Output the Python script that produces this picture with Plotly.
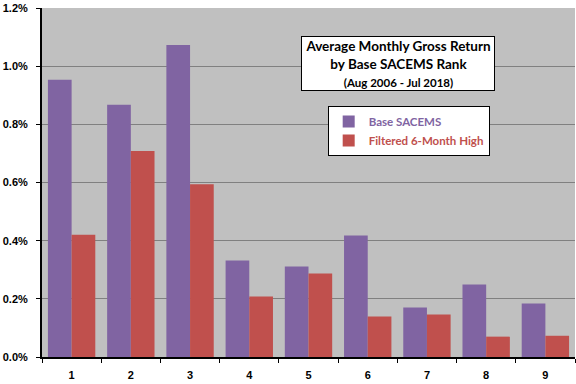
import plotly.graph_objects as go

ranks = ["1", "2", "3", "4", "5", "6", "7", "8", "9"]
base_sacems = [0.953, 0.867, 1.073, 0.332, 0.311, 0.418, 0.170, 0.249, 0.184]
filtered_6m_high = [0.420, 0.708, 0.594, 0.208, 0.287, 0.139, 0.146, 0.070, 0.073]
y_ticks = [0.0, 0.2, 0.4, 0.6, 0.8, 1.0, 1.2]
y_tick_labels = ["0.0%", "0.2%", "0.4%", "0.6%", "0.8%", "1.0%", "1.2%"]

purple = "#8064A2"
red = "#C0504D"

fig = go.Figure()
fig.add_trace(go.Bar(
    x=ranks, y=base_sacems,
    name=f"<span style='color:{purple}'><b>Base SACEMS</b></span>",
    marker=dict(color=purple, line=dict(width=0)),
))
fig.add_trace(go.Bar(
    x=ranks, y=filtered_6m_high,
    name=f"<span style='color:{red}'><b>Filtered 6-Month High</b></span>",
    marker=dict(color=red, line=dict(width=0)),
))

tick_font = dict(family="'Liberation Sans', Arial, sans-serif", size=11, color="black", weight="bold")

fig.update_layout(
    width=576, height=384,
    margin=dict(l=42, r=1, t=8, b=27, autoexpand=False),
    paper_bgcolor="white",
    plot_bgcolor="#C0C0C0",
    barmode="group",
    bargap=0.2,
    bargroupgap=0,
    font=dict(family="Lato, 'Open Sans', sans-serif", size=12, color="black"),
    showlegend=True,
    legend=dict(
        x=0.536, y=0.719, xanchor="left", yanchor="top",
        bgcolor="white", bordercolor="black", borderwidth=1,
        font=dict(size=11.5, family="Lato, 'Open Sans', sans-serif"),
        itemwidth=30,
        tracegroupgap=2,
    ),
    xaxis=dict(
        type="category",
        automargin=False,
        showline=True, linecolor="black", linewidth=2,
        ticks="outside", tickson="boundaries", ticklen=4, tickcolor="black", tickwidth=1,
        tickfont=tick_font,
        ticklabelstandoff=7,
        showgrid=False,
    ),
    yaxis=dict(
        range=[0, 1.2],
        automargin=False,
        tickvals=y_ticks, ticktext=y_tick_labels,
        showline=True, linecolor="black", linewidth=2,
        ticks="outside", ticklen=4, tickcolor="black",
        tickfont=tick_font,
        ticklabelstandoff=6,
        showgrid=True, gridcolor="#808080", gridwidth=1,
        zeroline=False,
    ),
    annotations=[dict(
        xref="paper", yref="paper", x=0.668, y=0.841,
        xanchor="center", yanchor="middle",
        text="<b>Average Monthly Gross Return<br>by Base SACEMS Rank<br><span style='font-size:11.5px'>(Aug 2006 - Jul 2018)</span></b>",
        showarrow=False,
        font=dict(family="Lato, 'Open Sans', sans-serif", size=13.5, color="black"),
        bgcolor="white", bordercolor="black", borderwidth=1,
        width=190, height=51, align="center",
    )],
)

fig.write_html("out.html", config={"displayModeBar": False},
               post_script="document.body.style.margin='0';")
